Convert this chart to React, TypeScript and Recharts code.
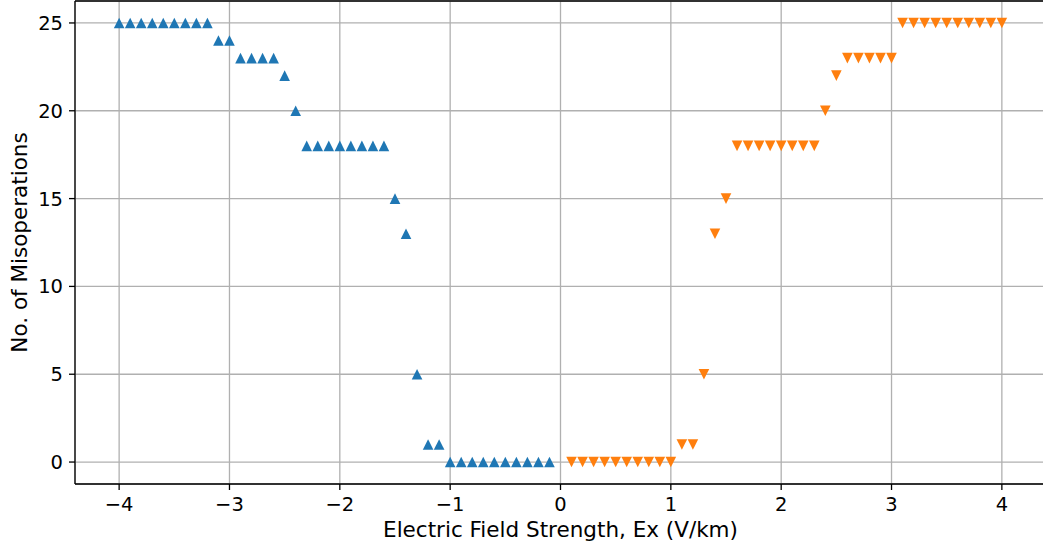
import { ScatterChart, Scatter, XAxis, YAxis, CartesianGrid, ReferenceLine } from 'recharts'

// negative field (blue, up triangles)
const negX = [
  -4.0, -3.9, -3.8, -3.7, -3.6, -3.5, -3.4, -3.3, -3.2, -3.1,
  -3.0, -2.9, -2.8, -2.7, -2.6, -2.5, -2.4, -2.3, -2.2, -2.1,
  -2.0, -1.9, -1.8, -1.7, -1.6, -1.5, -1.4, -1.3, -1.2, -1.1,
  -1.0, -0.9, -0.8, -0.7, -0.6, -0.5, -0.4, -0.3, -0.2, -0.1,
]
const negY = [
  25, 25, 25, 25, 25, 25, 25, 25, 25, 24,
  24, 23, 23, 23, 23, 22, 20, 18, 18, 18,
  18, 18, 18, 18, 18, 15, 13, 5, 1, 1,
  0, 0, 0, 0, 0, 0, 0, 0, 0, 0,
]

// positive field (orange, down triangles)
const posX = [
  0.1, 0.2, 0.3, 0.4, 0.5, 0.6, 0.7, 0.8, 0.9, 1.0,
  1.1, 1.2, 1.3, 1.4, 1.5, 1.6, 1.7, 1.8, 1.9, 2.0,
  2.1, 2.2, 2.3, 2.4, 2.5, 2.6, 2.7, 2.8, 2.9, 3.0,
  3.1, 3.2, 3.3, 3.4, 3.5, 3.6, 3.7, 3.8, 3.9, 4.0,
]
const posY = [
  0, 0, 0, 0, 0, 0, 0, 0, 0, 0,
  1, 1, 5, 13, 15, 18, 18, 18, 18, 18,
  18, 18, 18, 20, 22, 23, 23, 23, 23, 23,
  25, 25, 25, 25, 25, 25, 25, 25, 25, 25,
]

const xTicks = [-4, -3, -2, -1, 0, 1, 2, 3, 4]
const yTicks = [0, 5, 10, 15, 20, 25]

const negData = negX.map((x, i) => ({ x, y: negY[i] }))
const posData = posX.map((x, i) => ({ x, y: posY[i] }))

const FONT = 'DejaVu Sans'
const H = 5.3

const TriUp = (p: any) => (
  <polygon points={`${p.cx},${p.cy - H} ${p.cx - H},${p.cy + H} ${p.cx + H},${p.cy + H}`} fill={p.fill} />
)
const TriDown = (p: any) => (
  <polygon points={`${p.cx},${p.cy + H} ${p.cx - H},${p.cy - H} ${p.cx + H},${p.cy - H}`} fill={p.fill} />
)

const fmt = (v: number) => String(v).replace('-', '\u2212')

export default function App() {
  const tick = { fill: '#000', fontSize: 19.5, fontFamily: FONT }
  return (
    <div style={{ position: 'absolute', left: 0, top: 0, width: 1043, height: 546, overflow: 'hidden', background: '#fff' }}>
      <ScatterChart width={1047} height={546} margin={{ top: 1, right: 1, bottom: 0, left: 0 }}>
        <CartesianGrid stroke="#b0b0b0" strokeWidth={1.3} />
        <XAxis
          type="number"
          dataKey="x"
          domain={[-4.4, 4.4]}
          ticks={xTicks}
          allowDataOverflow
          height={62}
          tickSize={6}
          tickMargin={7}
          stroke="#000"
          strokeWidth={1.3}
          tick={tick}
          tickFormatter={fmt}
          label={{
            content: ({ viewBox }: any) => (
              <text x={viewBox.x + viewBox.width / 2} y={537} textAnchor="middle" fontSize={21.5} fontFamily={FONT} fill="#000">
                Electric Field Strength, Ex (V/km)
              </text>
            ),
          }}
        />
        <YAxis
          type="number"
          dataKey="y"
          domain={[-1.25, 26.25]}
          ticks={yTicks}
          allowDataOverflow
          width={75}
          tickSize={6}
          tickMargin={6}
          stroke="#000"
          strokeWidth={1.3}
          tick={tick}
          label={{
            content: ({ viewBox }: any) => {
              const cy = viewBox.y + viewBox.height / 2
              return (
                <text x={27} y={cy} transform={`rotate(-90, 27, ${cy})`} textAnchor="middle" fontSize={21.5} fontFamily={FONT} fill="#000">
                  No. of Misoperations
                </text>
              )
            },
          }}
        />
        <ReferenceLine y={26.25} stroke="#000" strokeWidth={1.3} ifOverflow="visible" />
        <Scatter data={negData} fill="#1f77b4" shape={TriUp} isAnimationActive={false} />
        <Scatter data={posData} fill="#ff7f0e" shape={TriDown} isAnimationActive={false} />
      </ScatterChart>
    </div>
  )
}
